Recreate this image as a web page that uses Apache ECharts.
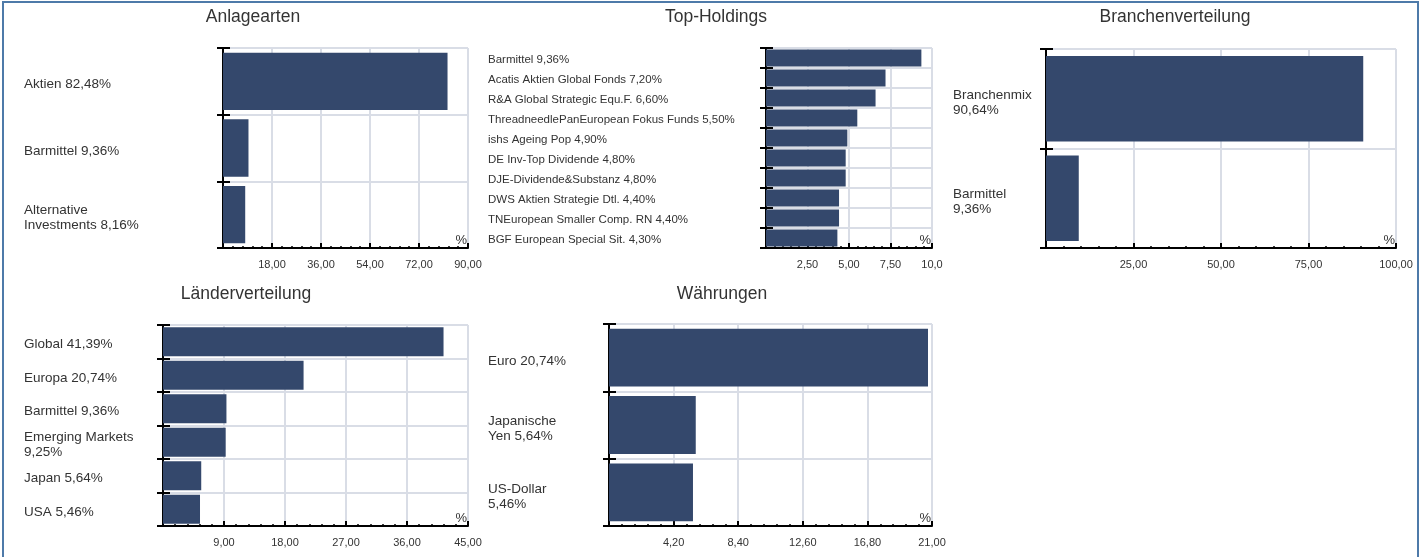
<!DOCTYPE html>
<html>
<head>
<meta charset="utf-8">
<script src="https://cdn.jsdelivr.net/npm/echarts@6/dist/echarts.min.js"></script>
</head>
<body style="margin:0;background:#fff;">
<div style="position:absolute;left:2px;top:1px;width:1413px;height:560px;border-left:2px solid #4e7aa9;border-top:2px solid #4e7aa9;border-right:2px solid #4e7aa9;"></div>
<div id="main" style="position:absolute;left:0;top:0;width:1425px;height:557px;"></div>
<script>
// Anlagearten
var anlageCats = ['Aktien 82,48%', 'Barmittel 9,36%', 'Alternative\nInvestments 8,16%'];
var anlageVals = [82.48, 9.36, 8.16];
var anlageTicks = ['18,00', '36,00', '54,00', '72,00', '90,00'];

// Top-Holdings
var holdingCats = ['Barmittel 9,36%', 'Acatis Aktien Global Fonds 7,20%', 'R&A Global Strategic Equ.F. 6,60%',
    'ThreadneedlePanEuropean Fokus Funds 5,50%', 'ishs Ageing Pop 4,90%', 'DE Inv-Top Dividende 4,80%',
    'DJE-Dividende&Substanz 4,80%', 'DWS Aktien Strategie Dtl. 4,40%', 'TNEuropean Smaller Comp. RN 4,40%',
    'BGF European Special Sit. 4,30%'];
var holdingVals = [9.36, 7.20, 6.60, 5.50, 4.90, 4.80, 4.80, 4.40, 4.40, 4.30];
var holdingTicks = ['2,50', '5,00', '7,50', '10,0'];

// Branchenverteilung
var brancheCats = ['Branchenmix\n90,64%', 'Barmittel\n9,36%'];
var brancheVals = [90.64, 9.36];
var brancheTicks = ['25,00', '50,00', '75,00', '100,00'];

// Länderverteilung
var laenderCats = ['Global 41,39%', 'Europa 20,74%', 'Barmittel 9,36%', 'Emerging Markets\n9,25%', 'Japan 5,64%', 'USA 5,46%'];
var laenderVals = [41.39, 20.74, 9.36, 9.25, 5.64, 5.46];
var laenderTicks = ['9,00', '18,00', '27,00', '36,00', '45,00'];

// Währungen
var waehrungCats = ['Euro 20,74%', 'Japanische\nYen 5,64%', 'US-Dollar\n5,46%'];
var waehrungVals = [20.74, 5.64, 5.46];
var waehrungTicks = ['4,20', '8,40', '12,60', '16,80', '21,00'];

var FONT = '"Liberation Sans", Arial, sans-serif';
var BAR = '#34486c';
var GRID = '#d9dde6';

// layout of each panel: plot box [left, top, width, height], label margin, title position
var panels = [
    {title: 'Anlagearten', tx: 253, ty: 8, cats: anlageCats, vals: anlageVals, ticks: anlageTicks, max: 90, step: 18, box: [223, 48, 245, 200], margin: 199, fs: 13.5, dy: 3},
    {title: 'Top-Holdings', tx: 716, ty: 8, cats: holdingCats, vals: holdingVals, ticks: holdingTicks, max: 10, step: 2.5, box: [766, 48, 166, 200], margin: 278, fs: 11.5, dy: 2},
    {title: 'Branchenverteilung', tx: 1175, ty: 8, cats: brancheCats, vals: brancheVals, ticks: brancheTicks, max: 100, step: 25, box: [1046, 49, 350, 199], margin: 93, fs: 13.5, dy: 4},
    {title: 'Länderverteilung', tx: 246, ty: 285, cats: laenderCats, vals: laenderVals, ticks: laenderTicks, max: 45, step: 9, box: [163, 325, 305, 201], margin: 139, fs: 13.5, dy: 3},
    {title: 'Währungen', tx: 722, ty: 285, cats: waehrungCats, vals: waehrungVals, ticks: waehrungTicks, max: 21, step: 4.2, box: [609, 324, 323, 202], margin: 121, fs: 13.5, dy: 4}
];

var option = {
    animation: false,
    backgroundColor: 'transparent',
    title: [], grid: [], xAxis: [], yAxis: [], series: []
};

panels.forEach(function (p, i) {
    option.title.push({
        text: p.title, left: p.tx, top: p.ty, textAlign: 'center', padding: 0,
        textStyle: {fontSize: 17.5, fontWeight: 'normal', color: '#333', fontFamily: FONT}
    });
    option.grid.push({left: p.box[0], top: p.box[1], width: p.box[2], height: p.box[3]});
    option.xAxis.push({
        type: 'value', gridIndex: i, min: 0, max: p.max, interval: p.step,
        name: '%', nameLocation: 'end', nameGap: -1,
        nameTextStyle: {align: 'right', verticalAlign: 'bottom', padding: [0, 0, 1, 0], fontSize: 13, color: '#333', fontFamily: FONT},
        axisLine: {show: true, lineStyle: {color: '#000', width: 2}},
        axisTick: {show: true, inside: true, length: 5, lineStyle: {color: '#000', width: 2}},
        minorTick: {show: true, splitNumber: 5, length: 2, lineStyle: {color: '#000', width: 1.5}},
        axisLabel: {
            showMinLabel: false, margin: 11, fontSize: 11, color: '#333', fontFamily: FONT,
            formatter: function (v) {
                if (v <= 0) return '';
                return p.ticks[Math.round(v / p.step) - 1] || '';
            }
        },
        splitLine: {show: true, lineStyle: {color: GRID, width: 2}}
    });
    // main category axis: line, outer ticks, labels, horizontal grid
    option.yAxis.push({
        type: 'category', gridIndex: i, position: 'left', inverse: true, data: p.cats,
        axisLine: {show: true, lineStyle: {color: '#000', width: 2}},
        axisTick: {show: true, length: 6, lineStyle: {color: '#000', width: 2}},
        axisLabel: {
            interval: 0, margin: p.margin, align: 'left', fontSize: p.fs, lineHeight: 15, color: '#333', fontFamily: FONT,
            formatter: function (v) {
                // empty spacer line on top pushes the block a few pixels down, like the original
                return '{s|}\n' + v.split('\n').map(function (s) { return '{t|' + s + '}'; }).join('\n');
            },
            rich: {
                s: {fontSize: 1, lineHeight: 2 * p.dy},
                t: {fontSize: p.fs, lineHeight: 15, color: '#333', fontFamily: FONT}
            }
        },
        splitLine: {show: true, lineStyle: {color: GRID, width: 2}}
    });
    // second axis only for the inner half of the crossing ticks
    option.yAxis.push({
        type: 'category', gridIndex: i, position: 'left', offset: 0, inverse: true, data: p.cats,
        axisLine: {show: false},
        axisTick: {show: true, inside: true, length: 7, lineStyle: {color: '#000', width: 2}},
        axisLabel: {show: false},
        splitLine: {show: false}
    });
    option.series.push({
        type: 'bar', xAxisIndex: i, yAxisIndex: 2 * i, data: p.vals,
        barCategoryGap: '14%', itemStyle: {color: BAR}, silent: true
    });
});

var chart = echarts.init(document.getElementById('main'));
chart.setOption(option);
</script>
</body>
</html>
